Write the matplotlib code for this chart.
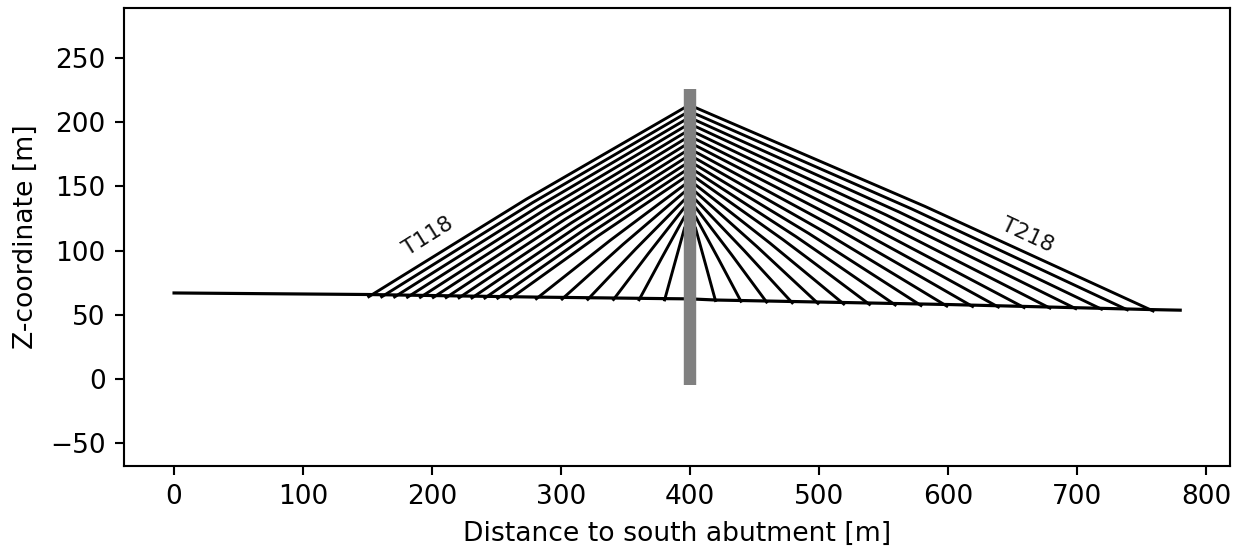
import matplotlib
matplotlib.use("Agg")
import matplotlib.pyplot as plt

# deck profile
deck_x = [0, 100, 150, 200, 280, 380, 400, 420, 600, 760, 780]
deck_z = [67, 66.2, 65.8, 65, 63.8, 62.6, 62.4, 61.5, 58, 54, 53.6]

# south side cables, deck anchor -> pylon
south_x = [150, 160, 170, 180, 190, 200, 210, 220, 230, 240, 250, 260, 280, 300, 320, 340, 360, 380]
south_anchor_z = [63.5, 63.4, 63.3, 63.1, 63, 62.9, 62.8, 62.6, 62.5, 62.4, 62.3, 62.1, 61.8, 61.5, 61.2, 61, 60.7, 60.5]
south_top_z = [211.5, 206.6, 201.7, 196.8, 191.9, 187, 182, 177, 172, 167, 162, 157, 151.5, 146, 140, 134, 127, 118.5]
south_mid_z = [140, 137.4, 134.8, 132.2, 129.6, 127, 124.3, 121.6, 119, 116.3, 113.7, 111, 107.9, 104.8, 101.4, 98.1, 94.2, 89.6]

# north side cables, pylon -> deck anchor
north_x = [420, 440, 460, 480, 500, 520, 540, 560, 580, 600, 620, 640, 660, 680, 700, 720, 740, 760]
north_anchor_z = [60, 59.5, 59, 58.5, 58.1, 57.7, 57.4, 57, 56.6, 56.2, 55.9, 55.5, 55.1, 54.7, 54.3, 53.9, 53.4, 52.5]
north_top_z = [118.5, 127, 134, 140, 146, 151.5, 157, 162, 167, 172, 177, 182, 187, 191.9, 196.8, 201.7, 206.6, 211.5]
north_mid_z = [89.4, 93.6, 97.1, 100, 103, 105.8, 108.6, 111, 113.4, 115.8, 118.3, 120.7, 123, 125.4, 127.8, 130.1, 132.4, 134.5]

pylon_x = [400, 400]
pylon_z = [-5, 226]

xticks = [0, 100, 200, 300, 400, 500, 600, 700, 800]
yticks = [-50, 0, 50, 100, 150, 200, 250]

dpi = 190
fig = plt.figure(figsize=(1241 / dpi, 551 / dpi), dpi=dpi)
ax = fig.add_axes([124 / 1241, 1 - 466 / 551, (1230 - 124) / 1241, (466 - 8) / 551])

for x, a, m, t in zip(south_x, south_anchor_z, south_mid_z, south_top_z):
    ax.plot([x, (x + 396) / 2, 396], [a, m, t], color="k", lw=1.1, solid_capstyle="butt")
for x, a, m, t in zip(north_x, north_anchor_z, north_mid_z, north_top_z):
    ax.plot([404, (x + 404) / 2, x], [t, m, a], color="k", lw=1.1, solid_capstyle="butt")
ax.plot(deck_x, deck_z, color="k", lw=1.2)
ax.plot(pylon_x, pylon_z, color="gray", lw=4.7, solid_capstyle="butt", zorder=5)

ax.text(197, 111, "T118", rotation=32, ha="center", va="center", fontsize=8.3, color="#111111")
ax.text(662, 112, "T218", rotation=-25, ha="center", va="center", fontsize=8.3, color="#111111")

ax.set_xlim(-38.8, 818.6)
ax.set_ylim(-67.8, 289)
ax.set_xticks(xticks)
ax.set_yticks(yticks)
ax.set_xlabel("Distance to south abutment [m]", fontsize=10.1)
ax.set_ylabel("Z-coordinate [m]", fontsize=10.1)

fig.savefig("out.png", dpi=dpi)
